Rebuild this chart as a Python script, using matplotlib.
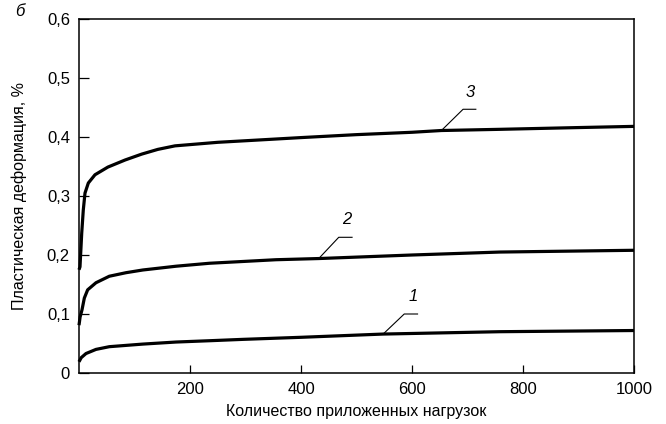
import matplotlib
matplotlib.use("Agg")
import matplotlib.pyplot as plt

plt.rcParams['font.family'] = ['Liberation Sans', 'DejaVu Sans']

# curve 3
x3 = [0, 1.8, 4.9, 7.7, 10.8, 16.8, 28.8, 52, 83, 113, 142, 173, 250, 344,
      400, 500, 600, 653, 758, 900, 1000]
y3 = [0.175, 0.18, 0.237, 0.276, 0.305, 0.322, 0.336, 0.349, 0.361, 0.371,
      0.379, 0.385, 0.391, 0.396, 0.399, 0.404, 0.408, 0.411, 0.413, 0.416, 0.418]
# curve 2
x2 = [0, 2, 5.4, 9.6, 15.6, 30.6, 54.6, 84.7, 115, 175, 235, 295, 355, 432,
      600, 758, 1000]
y2 = [0.081, 0.095, 0.107, 0.127, 0.141, 0.153, 0.164, 0.170, 0.1746, 0.181,
      0.186, 0.189, 0.192, 0.194, 0.200, 0.205, 0.208]
# curve 1
x1 = [0, 4, 12.6, 30.6, 54.6, 115, 175, 235, 295, 355, 400, 548, 758, 1000]
y1 = [0.019, 0.026, 0.033, 0.040, 0.0446, 0.049, 0.0525, 0.0547, 0.057, 0.059,
      0.0605, 0.066, 0.070, 0.072]

curve_names = ['1', '2', '3']
# leader: point on curve, elbow, end of shelf, text position
leaders = [
    [(548, 0.066), (586, 0.100), (610, 0.100), (602, 0.117)],
    [(432, 0.194), (468, 0.230), (492, 0.230), (482, 0.248)],
    [(653, 0.411), (692, 0.447), (715, 0.447), (705, 0.463)],
]

xticks = [200, 400, 600, 800, 1000]
yticks = [0, 0.1, 0.2, 0.3, 0.4, 0.5, 0.6]
ytick_labels = ['0', '0,1', '0,2', '0,3', '0,4', '0,5', '0,6']

fig = plt.figure(figsize=(6.66, 4.24), dpi=100)
fig.subplots_adjust(left=79/666, right=634/666, top=1-19/424, bottom=1-373/424)
ax = fig.add_subplot(111)

for xs, ys in [(x1, y1), (x2, y2), (x3, y3)]:
    ax.plot(xs, ys, color='black', lw=2.3, solid_capstyle='butt',
            solid_joinstyle='round', clip_on=False)

for name, ld in zip(curve_names, leaders):
    p, e, s, t = ld
    ax.plot([p[0], e[0], s[0]], [p[1], e[1], s[1]], color='black', lw=0.8)
    ax.text(t[0], t[1], name, fontsize=12, style='italic', ha='center', va='bottom')

ax.set_xlim(0, 1000)
ax.set_ylim(0, 0.6)
ax.set_xticks(xticks)
ax.set_xticklabels([str(v) for v in xticks])
ax.set_yticks(yticks)
ax.set_yticklabels(ytick_labels)
ax.tick_params(axis='y', direction='in', length=7.5, width=0.9, pad=6.5, labelsize=12)
ax.tick_params(axis='x', direction='in', length=5.5, width=0.9, pad=6.3, labelsize=12)
for sp in ax.spines.values():
    sp.set_linewidth(1.1)

ax.set_xlabel('Количество приложенных нагрузок', fontsize=11.5, labelpad=5)
ax.set_ylabel('Пластическая деформация, %', fontsize=11.5, labelpad=14)
fig.text(20/666, 1-12/424, 'б', fontsize=12, style='italic', ha='center', va='center')

fig.savefig('out.png', dpi=100)
